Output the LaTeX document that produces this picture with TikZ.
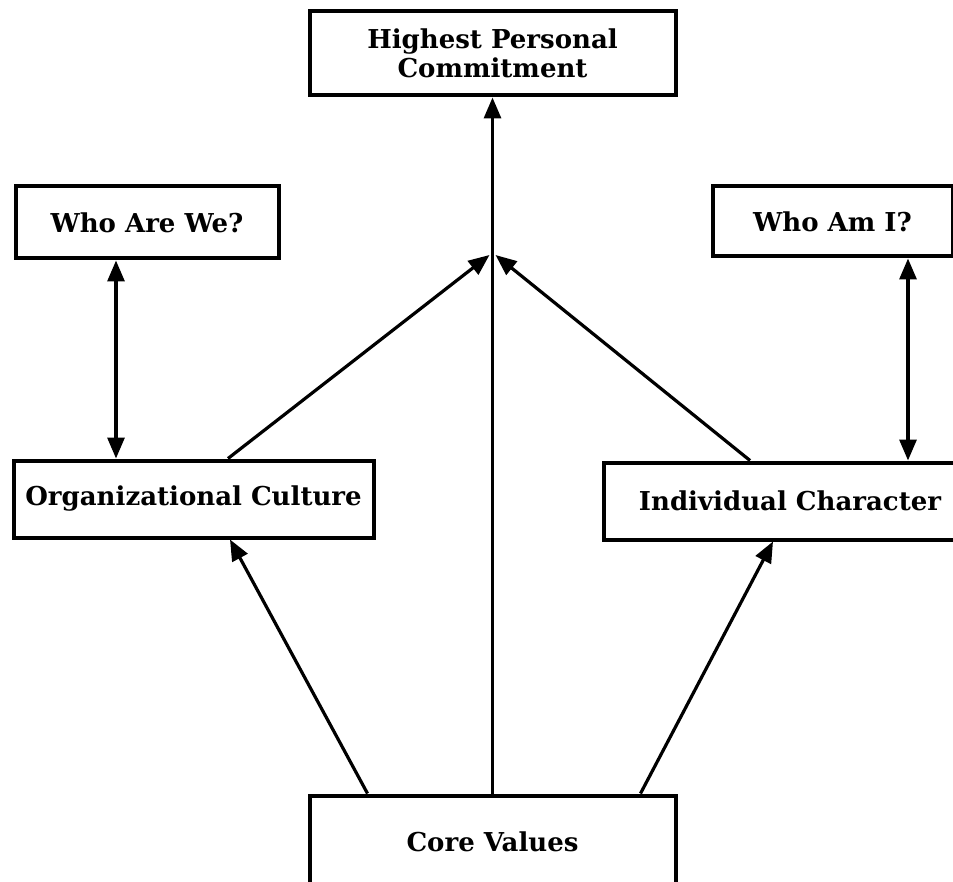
\documentclass[tikz,border=0pt]{standalone}
\usepackage{fontspec}
\setmainfont{DejaVu Serif}
\usetikzlibrary{arrows.meta}

\begin{document}
\begin{tikzpicture}[x=1pt, y=-1pt,
    box/.style={draw, line width=4pt, align=center, inner sep=0pt,
      font=\fontsize{26}{29}\selectfont\bfseries},
    arr/.style={line width=3.2pt, -{Triangle[length=21pt, width=17pt]}},
    dbl/.style={line width=3.2pt, {Triangle[length=21pt, width=17pt]}-{Triangle[length=21pt, width=17pt]}}]
    \useasboundingbox (0,0) rectangle (953,882);
    \clip (0,0) rectangle (953,882);
    \node[box, minimum width=366pt, minimum height=84pt] (high) at (492.5,53.5) {Highest Personal\\Commitment};
    \node[box, minimum width=263pt, minimum height=72pt] (wawe) at (147,222.5) {Who Are We?};
    \node[box, minimum width=240pt, minimum height=70pt] (wami) at (832.5,221.5) {Who Am I?};
    \node[box, minimum width=360pt, minimum height=77pt] (org) at (193.5,499) {Organizational Culture};
    \node[box, minimum width=373pt, minimum height=77pt] (ind) at (790,501) {Individual Character};
    \node[box, minimum width=366pt, minimum height=93pt] (core) at (492.5,842) {Core Values};
    \coordinate (apex) at (492.5,255);
    \draw[arr] (core.north) -- (high.south);
    \draw[arr] ([xshift=-125pt]core.north) -- ([xshift=36.5pt]org.south);
    \draw[arr] ([xshift=148pt]core.north) -- ([xshift=-17pt]ind.south);
    \draw[arr] ([xshift=34.5pt]org.north) -- ([xshift=-3pt]apex);
    \draw[arr] ([xshift=-40pt]ind.north) -- ([xshift=3pt]apex);
    \draw[dbl] ([xshift=-31pt]wawe.south) coordinate (wl) -- (wl |- org.north);
    \draw[dbl] ([xshift=75.5pt]wami.south) coordinate (wr) -- (wr |- ind.north);
\end{tikzpicture}
\end{document}
